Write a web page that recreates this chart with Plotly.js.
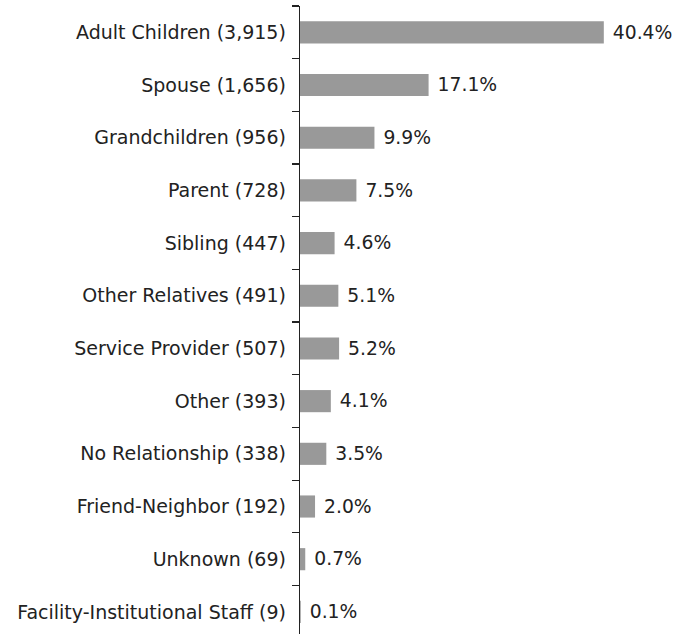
<!DOCTYPE html>
<html>
<head>
<meta charset="utf-8">
<script src="https://cdn.plot.ly/plotly-3.0.1.min.js"></script>
<style>html,body{margin:0;padding:0;background:#fff}#chart{width:680px;height:634px}</style>
</head>
<body>
<div id="chart"></div>
<script>
const categories = ["Adult Children","Spouse","Grandchildren","Parent","Sibling","Other Relatives","Service Provider","Other","No Relationship","Friend-Neighbor","Unknown","Facility-Institutional Staff"];
const counts = ["3,915","1,656","956","728","447","491","507","393","338","192","69","9"];
const percents = [40.4,17.1,9.9,7.5,4.6,5.1,5.2,4.1,3.5,2.0,0.7,0.1];

const labels = categories.map((c,i)=>c+" ("+counts[i]+")");
const FONT = "DejaVu Sans, sans-serif";

const trace = {
  type: "bar",
  orientation: "h",
  y: labels,
  x: percents,
  marker: {color: "#999999"},
  text: percents.map(v=>"\u00a0"+v.toFixed(1)+"%"),
  textposition: "outside",
  cliponaxis: false,
  textfont: {family: FONT, size: 19.5, color: "#222222"},
  width: 0.42,
  hoverinfo: "none"
};

const layout = {
  width: 680, height: 634,
  margin: {l: 300, r: 4, t: 6, b: 0},
  paper_bgcolor: "#ffffff", plot_bgcolor: "#ffffff",
  showlegend: false,
  xaxis: {range: [0, 50], visible: false, fixedrange: true},
  yaxis: {
    type: "category",
    range: [11.42, -0.5],
    showline: true, linecolor: "#222222", linewidth: 1.3,
    ticks: "outside", ticklen: 7, tickcolor: "#222222", tickwidth: 1.3,
    tickson: "boundaries",
    showgrid: false, zeroline: false,
    tickfont: {family: FONT, size: 19, color: "#222222"},
    ticklabelstandoff: 9,
    fixedrange: true
  },
  font: {family: FONT, color: "#222222"}
};

Plotly.newPlot("chart", [trace], layout, {displayModeBar: false, staticPlot: true});
</script>
</body>
</html>
